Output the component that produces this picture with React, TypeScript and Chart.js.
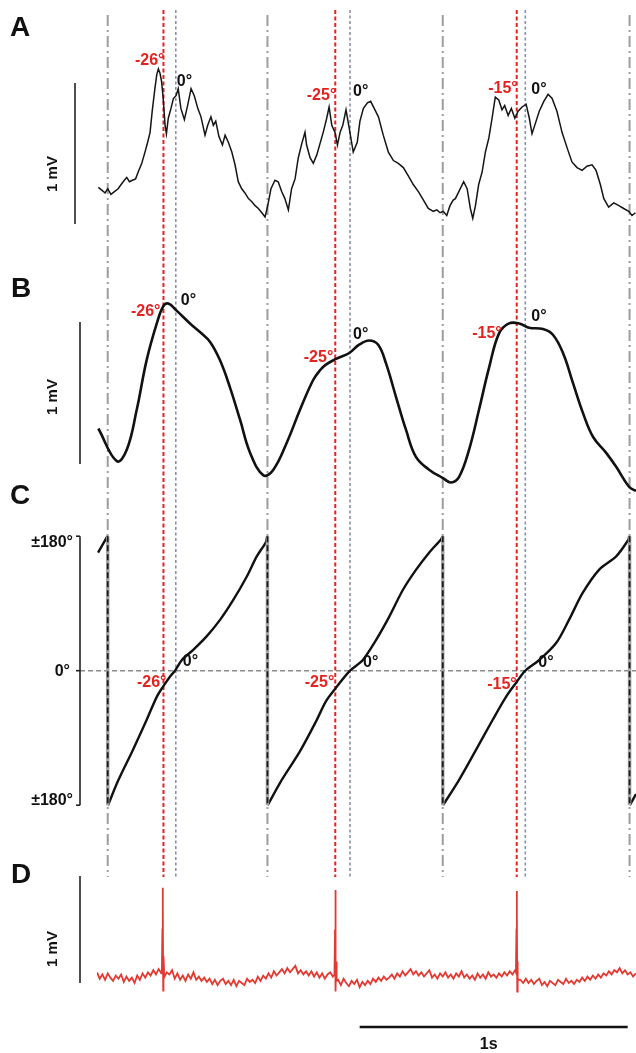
import { useEffect, useRef } from "react";
import { Chart, registerables } from "chart.js";

Chart.register(...registerables);

const W = 636;
const H = 1053;
const FONT = '"Liberation Sans", Arial, sans-serif';

// ---- event markers (ms) ----
const CYCLE_TIMES = [40, 636, 1290, 1987];
const RED_TIMES = [248, 889, 1566];
const ZERO_TIMES = [294, 944, 1598];
const RED_LABELS = ["-26°", "-25°", "-15°"];

// ---- Panel A: raw LFP (ms, mV) ----
const A_TIME = [5,18,30,40,52,65,79,90,102,111,121,132,144,154,167,179,189,198,206,216,223,229,235,241,247,254,259,266,276,285,295,303,313,326,338,351,363,376,388,403,413,425,434,443,455,468,478,490,503,515,527,540,552,565,577,590,602,615,627,637,649,664,676,689,701,714,726,739,751,764,776,782,795,807,820,832,844,857,866,876,888,897,907,917,929,941,956,971,981,994,1009,1021,1037,1050,1068,1087,1106,1124,1143,1162,1180,1199,1218,1236,1255,1268,1280,1292,1305,1317,1329,1337,1350,1368,1381,1393,1402,1412,1424,1437,1449,1462,1474,1486,1499,1511,1521,1534,1546,1559,1571,1586,1601,1613,1623,1635,1650,1667,1683,1698,1716,1735,1754,1772,1791,1810,1828,1847,1862,1878,1891,1909,1928,1947,1965,1984,1996,2009];
const A_MV = [0.26,0.24,0.22,0.25,0.21,0.23,0.25,0.28,0.31,0.33,0.30,0.31,0.32,0.37,0.43,0.51,0.58,0.65,0.80,0.96,1.06,1.10,1.07,1.01,0.89,0.70,0.64,0.75,0.82,0.89,0.91,0.96,0.82,0.74,0.84,0.96,0.91,0.82,0.76,0.63,0.70,0.76,0.70,0.73,0.62,0.56,0.63,0.58,0.51,0.42,0.30,0.25,0.22,0.18,0.16,0.13,0.11,0.08,0.05,0.13,0.25,0.31,0.30,0.23,0.18,0.10,0.25,0.32,0.47,0.57,0.65,0.56,0.47,0.43,0.49,0.57,0.65,0.75,0.83,0.70,0.65,0.56,0.65,0.70,0.81,0.68,0.51,0.58,0.73,0.82,0.86,0.87,0.81,0.76,0.63,0.51,0.45,0.43,0.40,0.34,0.28,0.23,0.17,0.11,0.09,0.10,0.08,0.09,0.06,0.13,0.17,0.18,0.23,0.30,0.25,0.11,0.04,0.13,0.28,0.37,0.51,0.61,0.75,0.90,0.88,0.81,0.84,0.77,0.82,0.75,0.80,0.83,0.85,0.75,0.64,0.71,0.80,0.87,0.92,0.89,0.80,0.65,0.54,0.44,0.40,0.38,0.41,0.42,0.38,0.28,0.18,0.12,0.15,0.13,0.11,0.09,0.06,0.08];

// ---- Panel B: filtered LFP (ms, mV) ----
const B_TIME = [5,74,111,148,185,223,247,266,297,347,384,422,459,496,534,571,621,658,708,757,806,832,854,892,940,978,1015,1049,1078,1116,1153,1190,1239,1291,1321,1351,1388,1425,1463,1500,1537,1575,1612,1664,1701,1739,1776,1813,1851,1899,1937,1985,2011];
const B_MV = [0.25,0.02,0.10,0.38,0.73,0.99,1.11,1.13,1.08,0.99,0.93,0.86,0.73,0.54,0.31,0.08,-0.08,-0.04,0.15,0.38,0.59,0.66,0.70,0.74,0.78,0.84,0.87,0.84,0.71,0.47,0.24,0.05,-0.04,-0.10,-0.13,-0.09,0.10,0.38,0.68,0.92,0.99,0.99,0.96,0.95,0.91,0.78,0.57,0.36,0.19,0.08,-0.02,-0.16,-0.19];

// ---- Panel C: phase (ms, degrees); null = wrap ----
const C_TIME = [4,39,40,41,79,134,185,223,247,272,291,316,359,409,459,509,559,596,630,635,636,637,683,757,817,854,889,944,991,1041,1090,1141,1190,1239,1284,1289,1290,1291,1351,1414,1476,1526,1566,1598,1649,1713,1761,1812,1873,1937,1982,1986,1987,1988,2011];
const C_DEG = [158,180,null,-180,-147,-106,-66,-35,-21,-8,0,14,28,46,68,95,126,153,172,180,null,-180,-150,-108,-68,-41,-24,0,14,41,72,108,135,158,176,180,null,-180,-146,-106,-66,-35,-15,0,14,37,68,104,135,153,175,180,null,-180,-165];
const C_TICKS = [180, 0, -180];
const C_TICK_LABELS = ["±180°", "0°", "±180°"];

// ---- Panel D: unit recording, sampled every 10 ms (mV) + spikes ----
const D_STEP_MS = 10;
const D_BASE_MV = [
  0.10,0.04,0.08,0.03,0.09,0.05,0.02,0.07,0.04,0.08,
  0.01,0.06,0.02,0.05,0.00,0.07,0.03,0.09,0.05,0.10,
  0.07,0.12,0.08,0.13,0.09,0.14,0.10,0.08,0.12,0.04,
  0.09,0.03,0.07,0.02,0.08,0.04,0.10,0.03,0.06,0.02,
  0.05,0.01,0.04,-0.01,0.03,-0.02,0.02,0.04,-0.01,0.02,
  -0.02,0.03,-0.03,0.02,0.00,-0.02,0.04,0.01,0.03,0.00,
  0.06,0.02,0.07,0.04,0.09,0.05,0.11,0.07,0.10,0.13,
  0.09,0.14,0.10,0.13,0.16,0.09,0.12,0.08,0.11,0.07,
  0.11,0.06,0.10,0.05,0.09,0.04,0.08,0.10,0.06,0.09,
  0.03,-0.02,0.04,0.00,-0.03,0.02,-0.01,0.03,-0.04,0.01,
  -0.02,0.02,-0.01,0.04,0.01,0.05,0.02,0.06,0.03,0.05,
  0.08,0.04,0.09,0.06,0.11,0.07,0.10,0.13,0.08,0.11,
  0.07,0.10,0.06,0.09,0.12,0.05,0.08,0.04,0.09,0.06,
  0.10,0.05,0.08,0.04,0.09,0.06,0.11,0.05,0.08,0.04,
  0.07,0.03,0.09,0.05,0.08,0.04,0.10,0.06,0.08,0.05,
  0.09,0.06,0.10,0.07,0.11,0.08,0.12,0.05,0.03,0.00,
  0.04,0.00,0.03,-0.01,0.02,0.04,-0.02,0.01,-0.03,0.02,
  0.00,-0.02,0.03,0.01,-0.01,0.04,0.00,0.02,-0.01,0.03,
  0.01,0.05,0.02,0.06,0.03,0.07,0.04,0.08,0.05,0.09,
  0.07,0.11,0.08,0.12,0.10,0.14,0.09,0.12,0.08,0.10,
  0.06,0.09,
];
const D_SPIKE_TIME = [242,244,245,246,247,248,250, 886,888,889,890,891,892,894, 1563,1565,1566,1567,1568,1569,1571];
const D_SPIKE_MV = [0.10,0.50,0.89,0.72,-0.07,0.25,0.05, 0.08,0.50,0.87,0.60,-0.08,0.20,0.02, 0.10,0.50,0.86,0.62,-0.08,0.20,0.03];

// time scale bar (ms)
const SCALEBAR_START_MS = 980;
const SCALEBAR_LEN_MS = 1000;

// ---- layout (pixels) ----
const X_MAX_MS = 2011;
const PLOT_LEFT = 97;
const PANEL_ZERO_PX: Record<string, number> = { yA: 224, yB: 464, yC: 670.7, yD: 983 };
const PANEL_PX_PER_UNIT: Record<string, number> = { yA: 141, yB: 142, yC: 134.5 / 180, yD: 107 };

function panelRange(id: string) {
  const z = PANEL_ZERO_PX[id];
  const k = PANEL_PX_PER_UNIT[id];
  return { min: (z - H) / k, max: z / k };
}

// phase-label placement: [scaleId, valueY, dx from marker px]
const RED_LABEL_POS: [string, number, number][][] = [
  [["yA", 1.16, 1], ["yB", 1.07, -3], ["yC", -16.5, 3]],
  [["yA", 0.91, 1], ["yB", 0.75, -2], ["yC", -16.5, -1]],
  [["yA", 0.96, 1], ["yB", 0.92, -15], ["yC", -19, 0]],
];
const ZERO_LABEL_POS: [string, number, number][][] = [
  [["yA", 1.01, 1], ["yB", 1.15, 5], ["yC", 11.6, 7]],
  [["yA", 0.94, 3], ["yB", 0.91, 3], ["yC", 10.3, 13]],
  [["yA", 0.95, 6], ["yB", 1.04, 6], ["yC", 10.3, 13]],
];

function zip(t: number[], v: (number | null)[]) {
  return t.map((x, i) => ({ x, y: v[i] }));
}

function vline(ctx: CanvasRenderingContext2D, x: number, y1: number, y2: number, color: string, w: number, dash: number[]) {
  ctx.save();
  ctx.strokeStyle = color;
  ctx.lineWidth = w;
  ctx.setLineDash(dash);
  ctx.beginPath();
  ctx.moveTo(x, y1);
  ctx.lineTo(x, y2);
  ctx.stroke();
  ctx.restore();
}

const overlay = {
  id: "overlay",
  beforeDatasetsDraw(chart: any) {
    const ctx: CanvasRenderingContext2D = chart.ctx;
    const xs = chart.scales.x;
    const yC = chart.scales.yC;
    const y0 = yC.getPixelForValue(0);
    ctx.save();
    ctx.strokeStyle = "#8c8c8c";
    ctx.lineWidth = 1.6;
    ctx.setLineDash([5, 3]);
    ctx.beginPath();
    ctx.moveTo(80, y0);
    ctx.lineTo(chart.chartArea.right, y0);
    ctx.stroke();
    ctx.restore();
    CYCLE_TIMES.forEach((t) => vline(ctx, xs.getPixelForValue(t), 15, 877, "#9d9d9d", 2, [11, 4, 2, 4]));
    ZERO_TIMES.forEach((t) => vline(ctx, xs.getPixelForValue(t), 10, 877, "#8a90a8", 1.6, [3, 2.5]));
    RED_TIMES.forEach((t) => vline(ctx, xs.getPixelForValue(t), 10, 877, "#e2231f", 2, [4, 2.5]));
  },
  afterDatasetsDraw(chart: any) {
    const ctx: CanvasRenderingContext2D = chart.ctx;
    const xs = chart.scales.x;
    const s = chart.scales;
    CYCLE_TIMES.forEach((t) => {
      const x = xs.getPixelForValue(t);
      const yt = s.yC.getPixelForValue(180);
      const yb = s.yC.getPixelForValue(-180);
      vline(ctx, x, yt, yb, "#a5a5a5", 3.5, []);
      vline(ctx, x, yt, yb, "#1a1a1a", 1.8, [6, 3]);
    });

    ctx.save();
    ctx.fillStyle = "#111";
    ctx.strokeStyle = "#222";
    ctx.font = `bold 28px ${FONT}`;
    ctx.textAlign = "left";
    ctx.textBaseline = "alphabetic";
    ctx.fillText("A", 10, 36);
    ctx.fillText("B", 11, 297);
    ctx.fillText("C", 10, 504);
    ctx.fillText("D", 11, 883);

    const bars: [string, number, number][] = [["yA", 75, 174], ["yB", 80, 397], ["yD", 80, 949]];
    bars.forEach(([id, x, ly]) => {
      const sc = s[id];
      ctx.lineWidth = 1.6;
      ctx.setLineDash([]);
      ctx.beginPath();
      ctx.moveTo(x, sc.getPixelForValue(0));
      ctx.lineTo(x, sc.getPixelForValue(1));
      ctx.stroke();
      ctx.save();
      ctx.translate(53, ly);
      ctx.rotate(-Math.PI / 2);
      ctx.font = `bold 15px ${FONT}`;
      ctx.textAlign = "center";
      ctx.textBaseline = "middle";
      ctx.fillText("1 mV", 0, 0);
      ctx.restore();
    });

    const yTop = s.yC.getPixelForValue(180);
    const yBot = s.yC.getPixelForValue(-180);
    ctx.lineWidth = 1.6;
    ctx.beginPath();
    ctx.moveTo(80, yTop);
    ctx.lineTo(80, yBot);
    ctx.stroke();
    C_TICKS.forEach((d, i) => {
      const y = s.yC.getPixelForValue(d);
      ctx.beginPath();
      ctx.moveTo(76, y);
      ctx.lineTo(80, y);
      ctx.stroke();
      ctx.font = `bold 16px ${FONT}`;
      ctx.textAlign = "right";
      ctx.textBaseline = "middle";
      const off = i === 0 ? 6 : i === 2 ? -5 : 1;
      ctx.fillText(C_TICK_LABELS[i], i === 1 ? 70 : 73, y + off);
    });

    ctx.font = `bold 16px ${FONT}`;
    ctx.textBaseline = "middle";
    RED_TIMES.forEach((t, i) => {
      const x = xs.getPixelForValue(t);
      ctx.fillStyle = "#e3231f";
      ctx.textAlign = "right";
      RED_LABEL_POS[i].forEach(([id, v, dx]) => ctx.fillText(RED_LABELS[i], x + dx, s[id].getPixelForValue(v)));
    });
    ZERO_TIMES.forEach((t, i) => {
      const x = xs.getPixelForValue(t);
      ctx.fillStyle = "#111";
      ctx.textAlign = "left";
      ZERO_LABEL_POS[i].forEach(([id, v, dx]) => ctx.fillText("0°", x + dx, s[id].getPixelForValue(v)));
    });

    const x1 = xs.getPixelForValue(SCALEBAR_START_MS);
    const x2 = xs.getPixelForValue(SCALEBAR_START_MS + SCALEBAR_LEN_MS);
    ctx.strokeStyle = "#111";
    ctx.lineWidth = 2.5;
    ctx.beginPath();
    ctx.moveTo(x1, 1027);
    ctx.lineTo(x2, 1027);
    ctx.stroke();
    ctx.fillStyle = "#111";
    ctx.font = `bold 16px ${FONT}`;
    ctx.textAlign = "center";
    ctx.textBaseline = "middle";
    ctx.fillText("1s", (x1 + x2) / 2 - 5, 1045);
    ctx.restore();
  },
};

export default function App() {
  const ref = useRef<HTMLCanvasElement | null>(null);
  useEffect(() => {
    if (!ref.current) return;
    const dPoints = [
      ...D_BASE_MV.map((v, i) => ({ x: i * D_STEP_MS, y: v })),
      ...zip(D_SPIKE_TIME, D_SPIKE_MV),
    ].sort((a, b) => a.x - b.x);
    const ys: any = {};
    ["yA", "yB", "yC", "yD"].forEach((id) => {
      ys[id] = { type: "linear", display: false, ...panelRange(id) };
    });
    const chart = new Chart(ref.current, {
      type: "line",
      data: {
        datasets: [
          { data: zip(A_TIME, A_MV), yAxisID: "yA", borderColor: "#151515", borderWidth: 1.5, pointRadius: 0, tension: 0 },
          { data: zip(B_TIME, B_MV), yAxisID: "yB", borderColor: "#111", borderWidth: 2.6, pointRadius: 0, tension: 0.4 },
          { data: zip(C_TIME, C_DEG), yAxisID: "yC", borderColor: "#111", borderWidth: 2.4, pointRadius: 0, tension: 0.3, spanGaps: false },
          { data: dPoints, yAxisID: "yD", borderColor: "#e23a30", borderWidth: 1.8, pointRadius: 0, tension: 0 },
        ] as any,
      },
      options: {
        responsive: false,
        animation: false,
        devicePixelRatio: 1,
        events: [],
        layout: { padding: { left: PLOT_LEFT, right: 0, top: 0, bottom: 0 } },
        plugins: { legend: { display: false }, tooltip: { enabled: false } },
        scales: {
          x: { type: "linear", display: false, min: 0, max: X_MAX_MS },
          ...ys,
        },
      } as any,
      plugins: [overlay],
    });
    return () => chart.destroy();
  }, []);
  return (
    <div style={{ position: "absolute", left: 0, top: 0, width: W, height: H, background: "#fff" }}>
      <canvas ref={ref} width={W} height={H} style={{ display: "block" }} />
    </div>
  );
}
